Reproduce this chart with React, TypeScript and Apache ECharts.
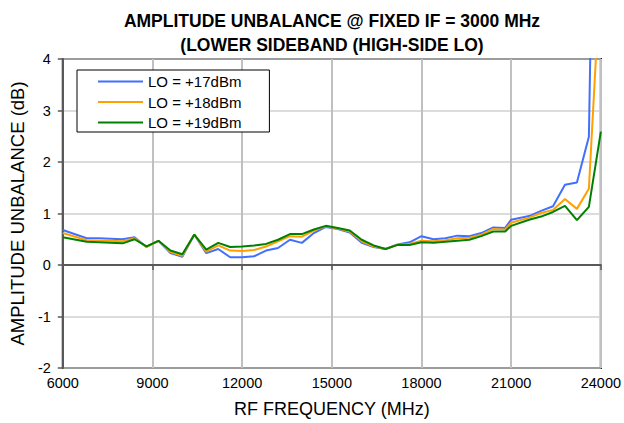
import React, { useEffect, useRef } from "react";
import * as echarts from "echarts";

const freqMHz = [6000, 6800, 7200, 7600, 8000, 8400, 8800, 9200, 9600, 10000, 10400, 10800, 11200, 11600, 12000, 12400, 12800, 13200, 13600, 14000, 14400, 14800, 15200, 15600, 16000, 16400, 16800, 17200, 17600, 18000, 18400, 18800, 19200, 19600, 20000, 20400, 20800, 21000, 21600, 22000, 22400, 22800, 23200, 23600, 24000];

const lo17 = [0.68, 0.52, 0.52, 0.51, 0.50, 0.54, 0.35, 0.47, 0.23, 0.16, 0.59, 0.23, 0.31, 0.15, 0.15, 0.17, 0.28, 0.33, 0.49, 0.43, 0.62, 0.74, 0.70, 0.63, 0.43, 0.35, 0.31, 0.40, 0.44, 0.56, 0.50, 0.52, 0.57, 0.56, 0.62, 0.73, 0.72, 0.88, 0.95, 1.05, 1.14, 1.56, 1.60, 2.49, 16];
const lo18 = [0.62, 0.48, 0.47, 0.47, 0.46, 0.52, 0.35, 0.47, 0.25, 0.18, 0.59, 0.26, 0.38, 0.28, 0.27, 0.29, 0.36, 0.46, 0.56, 0.55, 0.67, 0.75, 0.71, 0.65, 0.46, 0.36, 0.31, 0.39, 0.41, 0.47, 0.46, 0.48, 0.52, 0.53, 0.59, 0.70, 0.69, 0.82, 0.92, 1.01, 1.07, 1.28, 1.09, 1.48, 5.8];
const lo19 = [0.54, 0.45, 0.44, 0.43, 0.42, 0.50, 0.36, 0.47, 0.28, 0.21, 0.59, 0.30, 0.43, 0.35, 0.36, 0.38, 0.41, 0.49, 0.60, 0.60, 0.69, 0.76, 0.72, 0.67, 0.49, 0.38, 0.31, 0.39, 0.39, 0.44, 0.43, 0.45, 0.47, 0.49, 0.56, 0.65, 0.65, 0.76, 0.88, 0.94, 1.03, 1.15, 0.87, 1.13, 2.59];

const seriesNames = ["LO = +17dBm", "LO = +18dBm", "LO = +19dBm"];
const seriesColors = ["#4070FF", "#FFA000", "#008000"];
const titleLines = ["AMPLITUDE UNBALANCE @ FIXED IF = 3000 MHz", "(LOWER SIDEBAND (HIGH-SIDE LO)"];
const xAxisName = "RF FREQUENCY (MHz)";
const yAxisName = "AMPLITUDE UNBALANCE (dB)";

const FONT = "'Liberation Sans', Arial, sans-serif";

export default function App() {
  const ref = useRef<HTMLDivElement>(null);
  useEffect(() => {
    if (!ref.current) return;
    const chart = echarts.init(ref.current, null, { renderer: "svg" });
    const allSeries = [lo17, lo18, lo19];
    chart.setOption({
      animation: false,
      backgroundColor: "#ffffff",
      textStyle: { fontFamily: FONT },
      graphic: [
        {
          type: "text",
          x: 332,
          y: 21,
          style: {
            text: titleLines[0],
            fontFamily: FONT,
            fontSize: 17.5,
            fontWeight: "bold",
            fill: "#000",
            align: "center",
            verticalAlign: "middle",
          },
        },
        {
          type: "text",
          x: 332,
          y: 45,
          style: {
            text: titleLines[1],
            fontFamily: FONT,
            fontSize: 17.5,
            fontWeight: "bold",
            fill: "#000",
            align: "center",
            verticalAlign: "middle",
          },
        },
      ],
      grid: {
        left: 62,
        right: 22,
        top: 59,
        bottom: 55,
        show: true,
        borderColor: "#000",
        borderWidth: 2,
        backgroundColor: "transparent",
      },
      legend: {
        orient: "vertical",
        left: 77,
        top: 70,
        padding: [4, 28, 2, 21],
        itemWidth: 45,
        itemHeight: 15,
        itemGap: 5.5,
        borderColor: "#000",
        borderWidth: 1,
        backgroundColor: "#fff",
        textStyle: { fontFamily: FONT, fontSize: 15, color: "#000" },
        data: seriesNames.map((n) => ({ name: n, icon: "path://M0,0L45,0L45,2L0,2Z" })),
      },
      xAxis: {
        type: "value",
        min: 6000,
        max: 24000,
        interval: 3000,
        name: xAxisName,
        nameLocation: "middle",
        nameGap: 32,
        nameTextStyle: { fontFamily: FONT, fontSize: 18, color: "#000" },
        axisLine: { show: true, lineStyle: { color: "#595959", width: 2 } },
        axisTick: { show: true, inside: false, length: 5, lineStyle: { color: "#595959", width: 1.5 } },
        axisLabel: {
          fontFamily: FONT,
          fontSize: 14.5,
          color: "#000",
          margin: 7,
          formatter: (v: number) => String(v),
        },
        splitLine: { show: true, lineStyle: { color: "#c0c0c0", width: 2 } },
      },
      yAxis: {
        type: "value",
        min: -2,
        max: 4,
        interval: 1,
        name: yAxisName,
        nameLocation: "middle",
        nameGap: 33,
        nameTextStyle: { fontFamily: FONT, fontSize: 18.5, color: "#000" },
        axisLine: { show: true, lineStyle: { color: "#595959", width: 2 } },
        axisTick: { show: true, inside: false, length: 5, lineStyle: { color: "#595959", width: 1.5 } },
        axisLabel: {
          fontFamily: FONT,
          fontSize: 14.5,
          color: "#000",
          margin: 12,
          formatter: (v: number) => String(v),
        },
        splitLine: { show: true, lineStyle: { color: "#d0d0d0", width: 1.5 } },
      },
      series: allSeries.map((vals, i) => ({
        name: seriesNames[i],
        type: "line",
        symbol: "none",
        clip: true,
        color: seriesColors[i],
        lineStyle: { color: seriesColors[i], width: 2 },
        data: freqMHz.map((f, j) => [f, vals[j]]),
        z: 3 + i,
      })),
    });
    return () => chart.dispose();
  }, []);
  return (
    <div
      ref={ref}
      style={{ position: "fixed", left: 0, top: 0, width: 624, height: 423 }}
    />
  );
}
